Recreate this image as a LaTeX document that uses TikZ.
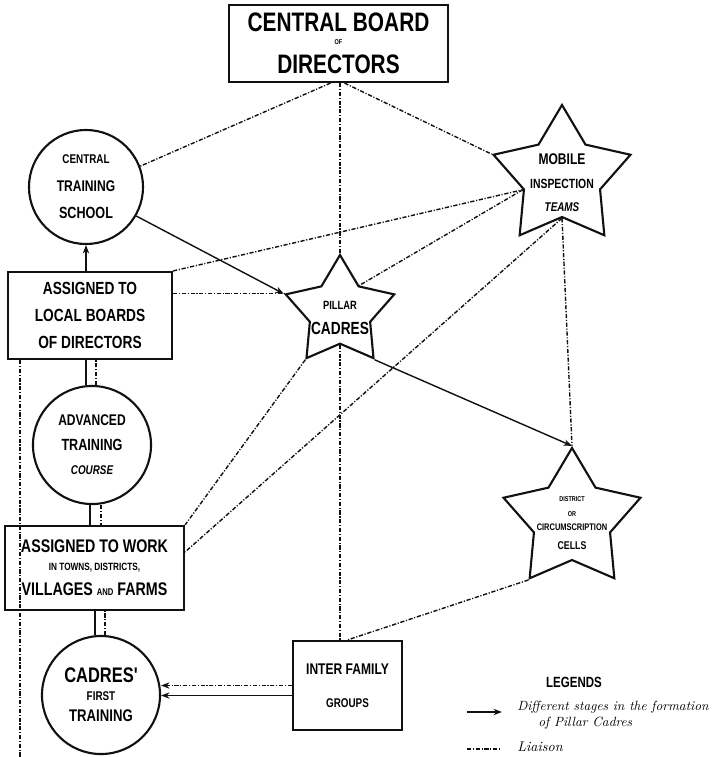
\documentclass[tikz,border=0pt]{standalone}
\usepackage{fontspec}
\usetikzlibrary{shapes.geometric, arrows.meta, calc}
\newfontfamily\handfont{Liberation Sans}[FakeStretch=0.78]
\definecolor{ink}{HTML}{111111}
\newcommand{\fsz}[2]{\fontsize{#1}{#2}\selectfont}
\tikzset{
  boardbox/.style={
    rectangle, draw=ink, line width=1.5pt, inner sep=0pt,
    align=center, font=\handfont\bfseries
  },
  ring/.style={
    circle, draw=ink, line width=1.5pt, inner sep=0pt,
    minimum size=#1, align=center, font=\handfont\bfseries
  },
  starbox/.style={
    star, star points=5, star point ratio=1.8, draw=ink,
    line width=1.5pt, inner sep=0pt, minimum size=#1
  },
  startext/.style={align=center, inner sep=0pt, font=\handfont\bfseries},
  stage/.style={-{Stealth[length=6pt, width=4.5pt]}, line width=1pt, ink},
  liaison/.style={line width=1pt, ink,
    dash pattern=on 3pt off 1.2pt on 0.8pt off 1.2pt}
}
\begin{document}
\begin{tikzpicture}[x=0.025cm, y=-0.025cm]
  \useasboundingbox (0,0) rectangle (725,757);
  % Direccion central
  \node[boardbox, minimum width=5.475cm, minimum height=1.925cm,
        font=\handfont\bfseries\fsz{19}{19}] (board) at (338.5,43.5)
    {CENTRAL BOARD\\[-9.5pt]{\fsz{5}{5}OF}\\[1.5pt]DIRECTORS};
  % Escuelas y destinos (columna izquierda)
  \node[ring=2.85cm, font=\handfont\bfseries\fsz{11}{19.5}] (cts) at (86,187)
    {{\fsz{9}{9}CENTRAL}\\TRAINING\\{\fsz{11.5}{11.5}SCHOOL}};
  \node[boardbox, minimum width=4.1cm, minimum height=2.175cm,
        font=\handfont\bfseries\fsz{12.5}{19.5}] (lbd) at (90,315.5)
    {ASSIGNED TO\\LOCAL BOARDS\\OF DIRECTORS};
  \node[ring=2.95cm, font=\handfont\bfseries\fsz{11}{17.4}] (adv) at (92,445)
    {ADVANCED\\{\fsz{11.5}{11.5}TRAINING}\\{\itshape\fsz{9}{9}COURSE}};
  \node[boardbox, minimum width=4.475cm, minimum height=2.1cm,
        font=\handfont\bfseries\fsz{13}{15}] (work) at (94.5,568)
    {ASSIGNED TO WORK\\[-2.7pt]{\fsz{7.5}{7.5}IN TOWNS, DISTRICTS,}\\[3.1pt]%
     VILLAGES {\fsz{7}{7}AND} FARMS};
  \node[ring=2.95cm, font=\handfont\bfseries\fsz{15}{14}] (cft) at (101,695)
    {CADRES'\\[-1.2pt]{\fsz{9}{9}FIRST}\\[1.2pt]{\fsz{12}{12}TRAINING}};
  \node[boardbox, minimum width=2.725cm, minimum height=2.225cm,
        font=\handfont\bfseries\fsz{11}{23.4}] (inter) at (347.5,685.5)
    {INTER FAMILY\\{\fsz{9}{9}GROUPS}};
  % Estrellas
  \node[starbox=2.85cm] (pillar) at (340,312) {};
  \node[startext, font=\handfont\bfseries\fsz{12.5}{18}] (pillarlbl) at (340,318)
    {{\fsz{8.5}{8.5}PILLAR}\\CADRES};
  \node[starbox=3.6cm] (mobile) at (562,177) {};
  \node[startext, font=\handfont\bfseries\fsz{11}{16.6}] (mobilelbl) at (562,183)
    {MOBILE\\{\fsz{9.5}{9.5}INSPECTION}\\{\itshape\fsz{9}{9}TEAMS}};
  \node[starbox=3.6cm] (district) at (572,520) {};
  \node[startext, font=\handfont\bfseries\fsz{5}{10.5}] (districtlbl) at (572,523)
    {DISTRICT\\OR\\{\fsz{6.8}{6.8}CIRCUMSCRIPTION}\\[2.6pt]{\fsz{8}{8}CELLS}};
  \coordinate (leftfoot) at (20,757);

  % Enlaces (liaison)
  \draw[liaison] ([xshift=-0.2cm]board.south) -- (cts.21);
  \draw[liaison] (board.south -| pillar.outer point 1) -- (pillar.outer point 1);
  \draw[liaison] ([xshift=0.15cm]board.south) -- (mobile.outer point 2);
  \draw[liaison] (lbd.north east) -- (mobile.inner point 2);
  \draw[liaison] (mobile.inner point 2) -- (pillar.inner point 5);
  \draw[liaison] (mobile.inner point 3) -- ([yshift=-0.675cm]work.north east);
  \draw[liaison] (pillar.outer point 3) -- (work.north east);
  \draw[liaison] (lbd.east |- pillar.outer point 2) -- (pillar.outer point 2);
  \draw[liaison] (pillar.inner point 3) -- (pillar.inner point 3 |- inter.north);
  \draw[liaison] (mobile.inner point 3) -- (district.outer point 1);
  \draw[liaison] (district.outer point 3) -- (inter.north);
  \draw[liaison] (leftfoot |- lbd.south) -- (leftfoot);
  \draw[liaison] ([xshift=0.1cm]adv.north) -- ([xshift=0.1cm]adv.north |- lbd.south);
  \draw[liaison] ([xshift=0.225cm]adv.south) -- ([xshift=0.225cm]adv.south |- work.north);
  \draw[liaison] ([xshift=0.1cm]cft.north) -- ([xshift=0.1cm]cft.north |- work.south);
  \draw[liaison, -{Stealth[length=6pt, width=4.5pt]}]
    (inter.west) -- (inter.west -| cft.east);

  % Etapas de formacion
  \draw[line width=1pt, ink] ([xshift=-0.15cm]cft.north) -- ([xshift=-0.15cm]cft.north |- work.south);
  \draw[line width=1pt, ink] ([xshift=-0.05cm]adv.south) -- ([xshift=-0.05cm]adv.south |- work.north);
  \draw[line width=1pt, ink] ([xshift=-0.15cm]adv.north) -- ([xshift=-0.15cm]adv.north |- lbd.south);
  \draw[stage] (cts.south |- lbd.north) -- (cts.south);
  \draw[stage] (cts.-30) -- (pillar.outer point 2);
  \draw[stage] (pillar.outer point 4) -- (district.outer point 1);
  \draw[stage] ([yshift=-0.25cm]inter.west) -- ([yshift=-0.25cm]inter.west -| cft.east);

  % Leyenda
  \node[font=\handfont\bfseries\fsz{10.5}{10.5}] (legtitle) at (574,682) {LEGENDS};
  \coordinate (legarrowA) at (467,712);
  \coordinate (legarrowB) at (502,712);
  \coordinate (legdotA) at (467,749);
  \coordinate (legdotB) at (500,749);
  \draw[stage] (legarrowA) -- (legarrowB);
  \draw[liaison] (legdotA) -- (legdotB);
  \node[anchor=west, align=left, inner sep=0pt, font=\itshape\fsz{9.5}{11.3}]
    (legstages) at (517,715)
    {Different stages in the formation\\\hspace*{15pt}of Pillar Cadres};
  \node[anchor=west, inner sep=0pt, font=\itshape\fsz{10}{10}]
    (legliaison) at (517,747) {Liaison};
\end{tikzpicture}
\end{document}
